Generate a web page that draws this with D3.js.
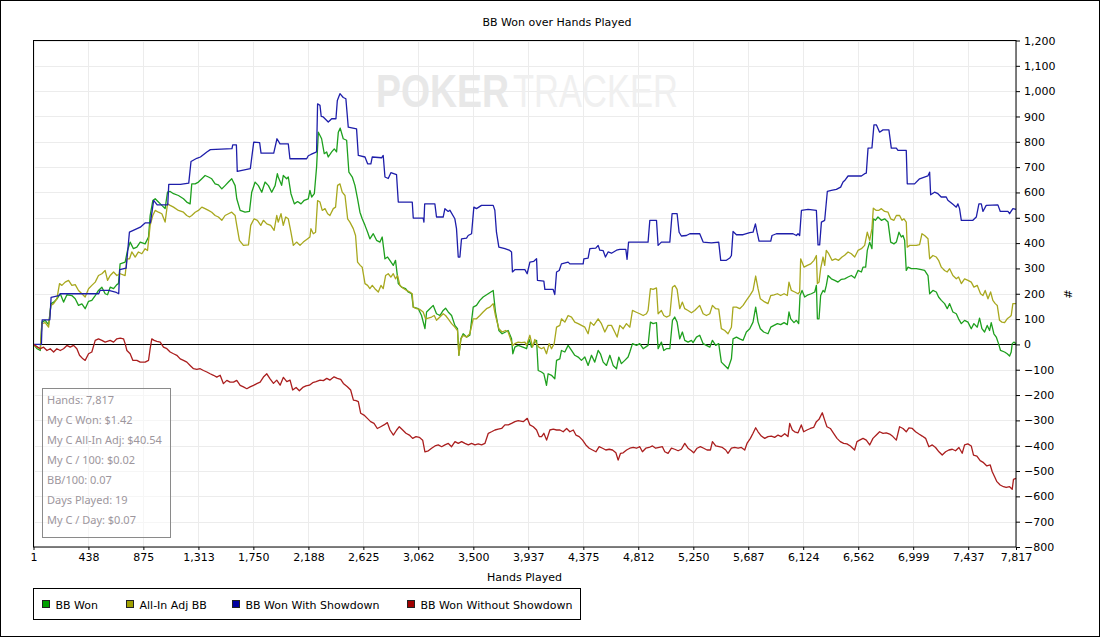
<!DOCTYPE html>
<meta charset="utf-8">
<script src="https://d3js.org/d3.v7.min.js"></script>
<style>
  body { margin: 0; background: white; }
  text { font-family: "DejaVu Sans", sans-serif; font-size: 11px; }
  .grid line { stroke: #ececec; stroke-width: 1px; }
  .series { fill: none; stroke-width: 1.3px; stroke-linejoin: round; }
  .stats text { font-family: "Noto Sans", sans-serif; fill: #9d969d; }
</style>
<div id="chart"></div>
<script>

  // x ticks (hands) and y ticks
  const handTicks = [1, 438, 875, 1313, 1750, 2188, 2625, 3062, 3500, 3937, 4375, 4812, 5250, 5687, 6124, 6562, 6999, 7437, 7817];
  const valueTicks = d3.range(-800, 1201, 100);

  const seriesNames = ["BB Won", "All-In Adj BB", "BB Won With Showdown", "BB Won Without Showdown"];
  const seriesColors = ["#1ea01e", "#a8a81e", "#1e1eaa", "#aa1e1e"];
  const legendColors = ["#00a000", "#a0a000", "#0000a0", "#a00000"];

  const statLines = ["Hands: 7,817", "My C Won: $1.42", "My C All-In Adj: $40.54", "My C / 100: $0.02",
    "BB/100: 0.07", "Days Played: 19", "My C / Day: $0.07"];

  // [hand, BB]
  const bbWon = [[1,0],[30,-17],[55,-24],[68,88],[94,95],[121,78],[141,161],[162,167],[188,180],[214,200],[240,167],[267,196],[306,193],[333,180],[359,154],[386,160],[412,141],[439,170],[465,174],[492,193],[518,213],[545,226],[571,200],[590,196],[611,226],[638,220],[664,236],[677,240],[690,318],[730,325],[749,371],[770,404],[796,378],[823,384],[850,404],[889,397],[916,424],[929,509],[950,568],[969,575],[995,562],[1022,549],[1048,536],[1067,601],[1088,604],[1115,595],[1154,588],[1194,575],[1220,562],[1247,555],[1260,634],[1287,634],[1313,641],[1340,654],[1366,667],[1393,661],[1419,654],[1446,634],[1472,630],[1499,614],[1525,627],[1552,641],[1578,654],[1605,627],[1618,575],[1645,529],[1684,522],[1719,525],[1737,601],[1764,641],[1790,627],[1817,601],[1843,641],[1870,627],[1896,601],[1923,627],[1941,674],
    [1948,661],[1975,628],[1988,667],[2015,654],[2028,661],[2049,595],[2076,555],[2102,564],[2129,555],[2155,569],[2187,575],[2200,608],[2214,582],[2235,595],[2253,700],[2267,838],[2293,812],[2314,753],[2333,760],[2346,740],[2373,760],[2394,772],[2412,760],[2426,838],[2441,854],[2465,812],[2492,806],[2510,680],[2537,661],[2558,628],[2579,575],[2598,522],[2616,496],[2638,470],[2659,443],[2677,417],[2704,437],[2730,411],[2757,404],[2775,424],[2797,338],[2818,345],[2836,332],[2863,312],[2881,332],[2903,240],[2929,226],[2961,220],[2982,207],[3009,200],[3022,147],[3062,141],[3088,114],[3115,62],[3128,128],[3154,141],[3181,154],[3207,121],[3234,114],[3260,134],[3279,143],[3300,128],[3327,114],[3353,75],[3374,62],[3385,-43],[3401,22],[3419,42],[3446,29],[3472,36],[3499,147],[3525,154],[3552,174],[3578,187],[3618,200],[3658,213],[3676,128],[3703,55],[3729,42],[3756,49],[3777,55],[3804,22],[3814,-37],[3830,-11],[3857,-4],[3910,-14],
    [3923,-17],[3944,20],[3963,-11],[3989,9],[4003,16],[4016,-103],[4042,-109],[4061,-116],[4082,-162],[4095,-116],[4122,-122],[4148,-136],[4162,-63],[4188,-57],[4201,-24],[4228,-30],[4254,-4],[4281,-24],[4307,-43],[4334,-50],[4360,-63],[4387,-50],[4413,-83],[4440,-43],[4466,-70],[4493,-24],[4511,-37],[4533,-70],[4559,-83],[4586,-43],[4612,-83],[4639,-96],[4657,-50],[4678,-76],[4705,-63],[4731,-50],[4745,-30],[4766,3],[4798,-4],[4824,3],[4851,-17],[4890,-4],[4909,88],[4930,82],[4957,86],[4970,-17],[4996,9],[5015,-24],[5036,-17],[5063,-17],[5084,95],[5102,108],[5121,88],[5142,22],[5163,49],[5182,16],[5208,9],[5235,16],[5248,7],[5275,29],[5301,36],[5328,3],[5354,-4],[5381,-11],[5402,16],[5428,-4],[5452,3],[5473,-70],[5500,-83],[5526,-96],[5553,-57],[5566,22],[5593,29],[5619,22],[5646,16],[5672,49],[5699,62],[5725,88],[5746,147],[5765,88],[5783,62],[5810,49],[5844,42],
    [5866,68],[5892,75],[5919,82],[5945,78],[5972,86],[5998,78],[6011,128],[6025,101],[6051,86],[6070,95],[6088,82],[6099,193],[6115,213],[6136,187],[6163,196],[6189,200],[6216,207],[6229,233],[6237,101],[6250,101],[6263,193],[6282,213],[6295,207],[6308,233],[6322,272],[6348,259],[6375,253],[6401,246],[6428,257],[6454,259],[6481,266],[6507,272],[6534,262],[6560,292],[6587,286],[6600,305],[6621,305],[6634,371],[6653,404],[6671,378],[6682,496],[6698,490],[6719,503],[6746,490],[6772,496],[6799,483],[6820,404],[6846,397],[6865,404],[6886,443],[6905,424],[6918,430],[6931,411],[6944,292],[6958,305],[6984,299],[7024,299],[7064,295],[7090,292],[7117,272],[7130,200],[7156,213],[7183,207],[7201,187],[7223,174],[7249,161],[7270,141],[7289,161],[7315,128],[7342,121],[7360,101],[7382,82],[7408,95],[7435,88],[7461,62],[7482,82],[7509,68],[7527,104],[7546,62],[7567,49],[7588,75],[7607,55],[7620,86],[7641,42],[7660,29],[7678,3],[7694,-24],[7726,-30],[7747,-37],[7766,-46],[7779,-30],[7787,3],[7800,9],[7817,3]];

  const allInAdj = [[1,0],[28,-11],[55,-17],[68,82],[94,86],[121,68],[139,154],[161,161],[187,180],[208,240],[227,233],[253,246],[280,253],[306,233],[333,236],[359,213],[386,200],[412,187],[439,220],[465,233],[492,246],[518,272],[545,279],[571,292],[590,253],[611,272],[638,286],[664,272],[691,279],[730,272],[744,338],[765,338],[783,365],[810,345],[836,365],[863,358],[889,378],[908,371],[929,470],[950,509],[969,529],[995,522],[1022,516],[1048,483],[1067,555],[1088,549],[1115,542],[1154,529],[1194,522],[1220,509],[1242,503],[1260,509],[1287,522],[1313,529],[1340,542],[1366,536],[1393,529],[1419,522],[1446,509],[1472,503],[1499,490],[1525,509],[1552,516],[1578,522],[1605,509],[1618,470],[1639,411],[1671,391],[1711,393],[1729,470],[1756,496],[1782,490],[1809,470],[1830,490],[1857,476],[1888,470],[1915,450],[1936,509],
    [1948,483],[1970,516],[1988,470],[2007,503],[2028,496],[2049,443],[2068,391],[2094,404],[2121,391],[2147,404],[2174,414],[2200,424],[2208,457],[2227,437],[2245,443],[2261,568],[2280,562],[2298,529],[2320,536],[2341,516],[2359,509],[2386,536],[2404,542],[2420,628],[2439,634],[2457,601],[2479,588],[2500,496],[2518,483],[2545,457],[2563,430],[2579,325],[2600,312],[2616,305],[2638,240],[2659,233],[2677,220],[2696,233],[2717,220],[2744,207],[2765,233],[2783,220],[2802,272],[2823,279],[2844,266],[2863,279],[2881,259],[2897,272],[2916,233],[2942,222],[2969,213],[2995,207],[3014,200],[3022,147],[3048,141],[3075,138],[3101,128],[3120,101],[3141,104],[3168,108],[3189,114],[3207,95],[3234,108],[3260,121],[3279,114],[3300,101],[3327,82],[3353,68],[3374,55],[3385,-43],[3401,22],[3419,36],[3446,29],[3472,42],[3499,101],[3525,101],[3552,114],[3578,128],[3605,141],[3631,147],[3658,161],[3676,114],[3703,62],[3729,49],[3756,55],[3777,49],[3804,9],[3814,-4],[3830,3],[3857,9],[3883,7],[3910,9],
    [3923,-4],[3950,36],[3971,-11],[3989,20],[4003,3],[4021,-11],[4042,-17],[4061,-11],[4082,-37],[4103,3],[4122,-17],[4143,3],[4162,68],[4188,75],[4201,101],[4228,88],[4254,114],[4281,108],[4307,88],[4334,82],[4360,75],[4387,68],[4413,42],[4432,88],[4458,75],[4493,101],[4519,82],[4546,49],[4572,75],[4599,75],[4625,49],[4644,29],[4665,75],[4692,62],[4718,82],[4745,68],[4766,134],[4792,128],[4824,121],[4851,114],[4877,121],[4890,134],[4909,220],[4930,217],[4957,223],[4970,121],[4996,134],[5015,114],[5036,108],[5063,114],[5084,226],[5102,233],[5121,217],[5142,141],[5163,167],[5182,141],[5208,134],[5235,125],[5261,134],[5301,154],[5328,121],[5354,114],[5381,121],[5402,154],[5428,141],[5452,139],[5473,62],[5500,55],[5526,42],[5553,68],[5566,147],[5593,147],[5619,141],[5646,154],[5672,174],[5699,193],[5725,213],[5746,270],[5765,220],[5783,180],[5810,170],[5844,161],
    [5866,193],[5892,196],[5919,200],[5945,193],[5972,200],[5998,193],[6011,246],[6030,213],[6057,207],[6083,200],[6096,207],[6104,338],[6131,305],[6157,312],[6184,318],[6210,332],[6229,351],[6237,240],[6250,246],[6263,299],[6282,345],[6295,312],[6308,371],[6327,358],[6353,332],[6380,338],[6406,332],[6433,345],[6454,352],[6481,365],[6507,358],[6534,345],[6560,371],[6587,378],[6613,391],[6634,443],[6653,411],[6671,457],[6682,538],[6706,529],[6724,529],[6746,536],[6772,525],[6799,522],[6820,496],[6846,490],[6865,509],[6891,509],[6910,490],[6926,496],[6944,483],[6952,384],[6971,391],[6997,391],[7024,391],[7050,394],[7069,437],[7090,430],[7117,417],[7130,338],[7156,351],[7183,345],[7201,332],[7223,305],[7249,292],[7270,286],[7289,299],[7315,272],[7342,259],[7360,266],[7382,240],[7408,259],[7435,253],[7461,246],[7482,226],[7509,233],[7535,200],[7554,193],[7572,213],[7594,180],[7615,207],[7633,174],[7652,161],[7668,154],[7686,95],[7705,88],[7726,86],[7747,101],[7766,108],[7779,114],[7792,161],[7817,161]];

  const withShowdown = [[1,0],[64,0],[70,97],[131,97],[141,186],[202,193],[215,200],[520,200],[530,213],[600,213],[660,205],[679,200],[687,295],[738,301],[764,443],[851,463],[891,480],[931,480],[957,569],[985,551],[1069,551],[1077,632],[1170,632],[1236,637],[1254,722],[1300,735],[1329,740],[1380,760],[1408,769],[1580,773],[1586,788],[1615,788],[1622,683],[1726,694],[1753,799],[1800,797],[1811,755],[1912,755],[1938,812],
    [1962,792],[2028,792],[2041,733],[2174,733],[2187,745],[2208,750],[2253,760],[2261,950],[2280,944],[2290,900],[2306,898],[2346,878],[2373,891],[2407,891],[2418,963],[2439,990],[2465,975],[2486,970],[2505,858],[2571,851],[2585,746],[2638,740],[2659,713],[2685,713],[2696,740],[2770,737],[2783,746],[2797,661],[2823,655],[2844,678],[2889,670],[2903,562],[3014,562],[3022,499],[3101,499],[3107,483],[3113,555],[3194,555],[3207,503],[3260,503],[3274,536],[3300,525],[3313,530],[3353,496],[3366,457],[3380,345],[3393,345],[3406,417],[3446,420],[3459,430],[3486,437],[3504,542],[3525,536],[3565,549],[3658,549],[3671,530],[3684,443],[3703,384],[3751,378],[3790,371],[3804,365],[3811,286],[3830,295],[3910,295],
    [3928,279],[3950,325],[3981,328],[4003,338],[4010,253],[4061,250],[4069,217],[4135,217],[4148,197],[4162,286],[4183,292],[4201,318],[4254,325],[4268,318],[4374,318],[4379,338],[4413,341],[4427,378],[4474,380],[4493,391],[4506,372],[4533,370],[4551,345],[4572,365],[4599,360],[4639,372],[4665,375],[4713,375],[4723,336],[4735,404],[4890,404],[4904,490],[4957,490],[4970,391],[4996,404],[5063,404],[5081,516],[5121,516],[5137,443],[5155,428],[5195,430],[5222,437],[5301,437],[5328,404],[5394,401],[5452,404],[5468,332],[5513,332],[5540,341],[5553,351],[5566,446],[5593,433],[5646,433],[5699,441],[5725,443],[5744,476],[5757,443],[5773,408],[5858,408],
    [5866,408],[5876,430],[5911,437],[6043,437],[6070,430],[6083,437],[6096,430],[6110,529],[6163,533],[6229,529],[6242,393],[6255,393],[6269,483],[6295,490],[6316,604],[6348,608],[6388,612],[6422,621],[6441,641],[6454,647],[6481,665],[6587,665],[6613,674],[6626,676],[6640,775],[6671,776],[6687,867],[6706,867],[6732,838],[6759,847],[6806,847],[6825,775],[6865,775],[6878,766],[6944,766],[6952,634],[7010,634],[7050,654],[7116,665],[7130,680],[7138,591],[7169,601],[7196,595],[7222,582],[7262,582],[7275,569],[7315,553],[7342,542],[7355,555],[7368,536],[7382,490],[7474,490],[7501,503],[7522,555],[7541,555],[7554,525],[7580,549],[7673,551],[7692,525],[7753,525],[7766,516],[7792,536],[7817,533]];

  const withoutShowdown = [[1,0],[55,-17],[81,-11],[108,-24],[134,-17],[161,-30],[187,-17],[214,-24],[240,-17],[267,-4],[293,-11],[320,-4],[346,-17],[367,-43],[394,-57],[412,-63],[439,-37],[465,-30],[492,16],[518,22],[545,16],[571,9],[611,16],[638,9],[664,22],[691,25],[717,22],[730,3],[744,-24],[770,-37],[791,-63],[823,-63],[850,-70],[889,-70],[916,-63],[929,-17],[942,22],[961,16],[982,12],[1009,9],[1035,-11],[1062,-17],[1088,-30],[1115,-37],[1141,-43],[1168,-57],[1194,-63],[1221,-70],[1247,-83],[1274,-96],[1300,-99],[1327,-96],[1353,-103],[1380,-109],[1406,-116],[1433,-122],[1459,-129],[1486,-122],[1512,-155],[1539,-142],[1565,-149],[1592,-149],[1618,-142],[1645,-162],[1671,-168],[1698,-175],[1724,-168],[1751,-162],[1777,-155],[1804,-149],[1830,-129],[1857,-116],[1883,-136],
    [1910,-154],[1936,-141],[1963,-161],[1989,-130],[2016,-147],[2042,-141],[2063,-180],[2090,-170],[2116,-183],[2143,-170],[2169,-164],[2196,-161],[2222,-151],[2249,-147],[2281,-141],[2307,-143],[2334,-134],[2360,-141],[2392,-128],[2418,-134],[2445,-138],[2466,-154],[2498,-167],[2524,-180],[2546,-220],[2567,-222],[2585,-226],[2604,-272],[2630,-279],[2657,-292],[2683,-305],[2710,-312],[2736,-332],[2763,-325],[2789,-318],[2816,-309],[2837,-338],[2864,-358],[2890,-338],[2911,-325],[2938,-338],[2964,-351],[2991,-358],[3017,-371],[3044,-364],[3070,-367],[3097,-378],[3115,-424],[3142,-420],[3168,-410],[3195,-401],[3221,-397],[3248,-404],[3274,-397],[3301,-391],[3327,-404],[3354,-384],[3380,-391],[3407,-384],[3433,-391],[3460,-397],[3486,-391],[3513,-397],[3539,-393],[3566,-397],[3592,-391],[3619,-351],[3645,-345],[3672,-338],[3698,-335],[3725,-332],[3751,-318],[3778,-318],[3804,-312],[3831,-305],[3857,-301],[3897,-305],[3929,-292],[3950,-318],[3977,-325],[4003,-338],[4024,-364],[4043,-364],[4061,-351],[4083,-378],[4109,-338],[4136,-335],[4162,-338],[4189,-338],[4215,-345],[4242,-332],[4268,-345],[4295,-338],[4316,-358],[4342,-364],[4369,-378],[4395,-397],[4422,-410],[4448,-417],[4475,-424],[4501,-404],[4528,-410],[4554,-417],[4581,-414],[4607,-417],[4634,-428],[4652,-457],[4671,-430],[4692,-428],[4719,-417],[4745,-410],[4772,-407],[4798,-410],
    [4824,-404],[4845,-424],[4872,-410],[4898,-407],[4925,-401],[4951,-410],[4978,-407],[5004,-404],[5023,-424],[5049,-430],[5076,-410],[5102,-414],[5129,-420],[5155,-414],[5182,-391],[5208,-410],[5235,-420],[5253,-428],[5280,-410],[5306,-404],[5333,-410],[5359,-417],[5386,-417],[5402,-384],[5428,-401],[5455,-404],[5481,-407],[5508,-417],[5526,-430],[5553,-410],[5579,-407],[5606,-410],[5632,-407],[5659,-417],[5677,-391],[5704,-371],[5725,-351],[5746,-329],[5765,-345],[5791,-362],[5818,-371],[5844,-364],[5871,-362],[5897,-367],[5924,-358],[5950,-364],[5977,-353],[6003,-364],[6017,-312],[6038,-338],[6056,-345],[6083,-349],[6109,-318],[6128,-345],[6154,-338],[6181,-332],[6207,-328],[6229,-305],[6250,-296],[6276,-270],[6295,-299],[6313,-325],[6340,-332],[6366,-351],[6393,-371],[6419,-384],[6446,-391],[6472,-393],[6499,-401],[6533,-417],[6552,-384],[6573,-378],[6600,-371],[6626,-378],[6653,-397],[6679,-371],[6706,-358],[6732,-345],[6759,-351],[6785,-349],[6812,-354],[6838,-364],[6865,-378],[6891,-325],[6918,-332],[6944,-345],[6965,-330],[6992,-332],[7018,-345],[7045,-354],[7071,-362],[7098,-371],[7124,-404],[7151,-397],[7177,-407],[7204,-424],[7230,-437],[7257,-424],[7283,-417],[7310,-414],[7336,-420],[7363,-407],[7389,-430],[7408,-397],[7434,-393],[7461,-401],[7479,-437],[7506,-441],[7532,-459],[7559,-467],[7585,-480],[7612,-476],[7628,-503],[7646,-522],[7665,-542],[7691,-555],[7718,-562],[7739,-565],[7766,-562],[7787,-572],[7797,-533],[7817,-529]];

  const allSeries = [bbWon, allInAdj, withShowdown, withoutShowdown];

  const W = 1100, H = 638;
  const plot = { left: 33.5, right: 1016, top: 40.5, bottom: 547 };

  const svg = d3.select("#chart")
    .append("svg")
    .attr("width", W)
    .attr("height", H);

  svg.append("rect").attr("width", W).attr("height", H).attr("fill", "white");
  // outer border
  svg.append("rect")
    .attr("x", 0.5).attr("y", 0.5).attr("width", W - 1).attr("height", 636)
    .attr("fill", "none").attr("stroke", "#000");

  const x = d3.scaleLinear().domain([1, 7817]).range([plot.left, plot.right]);
  const y = d3.scaleLinear().domain([-800, 1200]).range([plot.bottom, plot.top]);

  // grid
  const grid = svg.append("g").attr("class", "grid");
  grid.selectAll(".gx").data(handTicks).join("line")
    .attr("x1", d => Math.round(x(d)) + 0.5).attr("x2", d => Math.round(x(d)) + 0.5)
    .attr("y1", plot.top).attr("y2", plot.bottom);
  grid.selectAll(".gy").data(valueTicks).join("line")
    .attr("x1", plot.left).attr("x2", plot.right)
    .attr("y1", d => Math.round(y(d)) + 0.5).attr("y2", d => Math.round(y(d)) + 0.5);

  // watermark: two words, each squeezed horizontally to the logo width
  const logo = [
    { word: "POKER", left: 376, width: 133, weight: "bold", fill: "#e8e8e8" },
    { word: "TRACKER", left: 513, width: 165, weight: "normal", fill: "#f0f0f0" }
  ];
  logo.forEach(p => {
    const g = svg.append("g");
    const t = g.append("text").attr("x", 0).attr("y", 0)
      .style("font-family", "Liberation Sans").style("font-size", "46px")
      .style("font-weight", p.weight).style("fill", p.fill).text(p.word);
    const k = p.width / t.node().getComputedTextLength();
    g.attr("transform", `translate(${p.left},107) scale(${k},1)`);
  });

  // zero line
  svg.append("line")
    .attr("x1", plot.left).attr("x2", plot.right)
    .attr("y1", Math.round(y(0)) + 0.5).attr("y2", Math.round(y(0)) + 0.5)
    .attr("stroke", "#000");

  // series lines
  const line = d3.line().x(d => x(d[0])).y(d => y(d[1]));
  svg.append("g").selectAll("path").data(allSeries).join("path")
    .attr("class", "series")
    .attr("d", line)
    .attr("stroke", (d, i) => seriesColors[i]);

  // plot frame
  svg.append("rect")
    .attr("x", plot.left).attr("y", plot.top)
    .attr("width", plot.right - plot.left).attr("height", plot.bottom - plot.top)
    .attr("fill", "none").attr("stroke", "#000");

  // y axis on the right
  svg.append("g")
    .attr("transform", `translate(${plot.right},0)`)
    .call(d3.axisRight(y).tickValues(valueTicks).tickFormat(d3.format(",")).tickSize(4).tickPadding(4))
    .call(g => g.select(".domain").remove())
    .call(g => g.selectAll("text").style("font-family", "DejaVu Sans").style("font-size", "11px").attr("fill", "#000"));

  // x axis
  svg.append("g")
    .attr("transform", `translate(0,${plot.bottom})`)
    .call(d3.axisBottom(x).tickValues(handTicks).tickFormat(d3.format(",")).tickSize(3).tickPadding(3))
    .call(g => g.select(".domain").remove())
    .call(g => g.selectAll("text").style("font-family", "DejaVu Sans").style("font-size", "11px").attr("fill", "#000"));

  // titles
  svg.append("text").attr("x", 557).attr("y", 26).attr("text-anchor", "middle").text("BB Won over Hands Played");
  svg.append("text").attr("x", 524.5).attr("y", 581).attr("text-anchor", "middle").text("Hands Played");
  svg.append("text").attr("transform", "translate(1064,294) rotate(90)").attr("text-anchor", "middle").text("#");

  // stats box
  const stats = svg.append("g").attr("class", "stats");
  stats.append("rect")
    .attr("x", 42.5).attr("y", 388.5).attr("width", 128).attr("height", 149)
    .attr("fill", "white").attr("fill-opacity", 0.5).attr("stroke", "#8a8a8a");
  stats.selectAll("text").data(statLines).join("text")
    .attr("x", 47).attr("y", (d, i) => 404 + i * 20)
    .style("font-size", "11px")
    .text(d => d);

  // legend
  const legendX = [42.5, 126.5, 232.5, 407.5];
  svg.append("rect")
    .attr("x", 33.5).attr("y", 588.5).attr("width", 547).attr("height", 31)
    .attr("fill", "none").attr("stroke", "#000");
  const items = svg.append("g").selectAll("g").data(seriesNames).join("g")
    .attr("transform", (d, i) => `translate(${legendX[i]},600.5)`);
  items.append("rect").attr("width", 7).attr("height", 7)
    .attr("fill", (d, i) => legendColors[i]).attr("stroke", "#222");
  items.append("text").attr("x", 13).attr("y", 8).text(d => d);

</script>
